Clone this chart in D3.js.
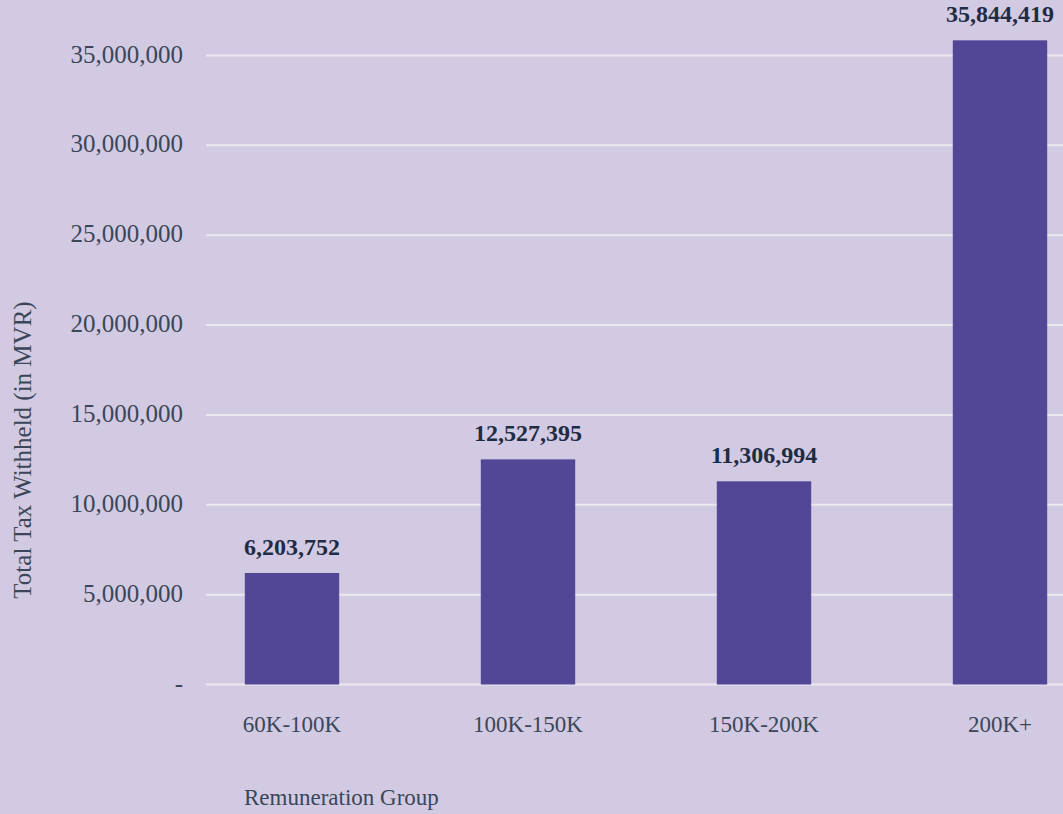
<!DOCTYPE html>
<html>
<head>
<meta charset="utf-8">
<script src="https://cdn.jsdelivr.net/npm/d3@7"></script>
<style>
  html, body { margin: 0; padding: 0; background: #d2cae2; }
  svg { display: block; }
</style>
</head>
<body>
<svg id="chart" width="1063" height="814"></svg>
<script>
const categories = ["60K-100K", "100K-150K", "150K-200K", "200K+"];
const values = [6203752, 12527395, 11306994, 35844419];
const yTicks = [0, 5000000, 10000000, 15000000, 20000000, 25000000, 30000000, 35000000];
const xTitle = "Remuneration Group";
const yTitle = "Total Tax Withheld (in MVR)";

const W = 1063, H = 814;
const svg = d3.select("#chart");
const font = "'Liberation Serif', 'Times New Roman', serif";
const textColor = "#3b4658";
const labelColor = "#1e2c45";

svg.append("rect").attr("width", W).attr("height", H).attr("fill", "#d2cae2");

const x = d3.scaleBand().domain(categories).range([174, 1118]).paddingInner(0.6).paddingOuter(0.3);
const y = d3.scaleLinear().domain([0, 35000000]).range([684.5, 55.5]);

const fmt = d3.format(",");

// gridlines
svg.append("g").selectAll("line").data(yTicks).join("line")
  .attr("x1", 206).attr("x2", W)
  .attr("y1", d => y(d)).attr("y2", d => y(d))
  .attr("stroke", "#ebe8ef").attr("stroke-width", 2);

// y tick labels
svg.append("g").selectAll("text").data(yTicks).join("text")
  .attr("x", 183).attr("y", d => y(d) + 7)
  .attr("text-anchor", "end")
  .attr("font-family", font).attr("font-size", 25)
  .attr("fill", textColor)
  .text(d => d === 0 ? "-" : fmt(d));

// bars
svg.append("g").selectAll("rect").data(values).join("rect")
  .attr("x", (d, i) => x(categories[i]))
  .attr("width", x.bandwidth())
  .attr("y", d => y(d))
  .attr("height", d => y(0) - y(d))
  .attr("fill", "#524797");

// value labels
svg.append("g").selectAll("text").data(values).join("text")
  .attr("x", (d, i) => x(categories[i]) + x.bandwidth() / 2)
  .attr("y", d => y(d) - 18)
  .attr("text-anchor", "middle")
  .attr("font-family", font).attr("font-size", 24).attr("font-weight", "bold")
  .attr("fill", labelColor)
  .text(d => fmt(d));

// x tick labels
svg.append("g").selectAll("text").data(categories).join("text")
  .attr("x", d => x(d) + x.bandwidth() / 2)
  .attr("y", 732)
  .attr("text-anchor", "middle")
  .attr("font-family", font).attr("font-size", 23)
  .attr("fill", textColor)
  .text(d => d);

// axis titles
svg.append("text")
  .attr("x", 244).attr("y", 805)
  .attr("font-family", font).attr("font-size", 23)
  .attr("fill", textColor)
  .text(xTitle);

svg.append("text")
  .attr("transform", "translate(31,450) rotate(-90)")
  .attr("text-anchor", "middle")
  .attr("font-family", font).attr("font-size", 25)
  .attr("fill", textColor)
  .text(yTitle);
</script>
</body>
</html>
